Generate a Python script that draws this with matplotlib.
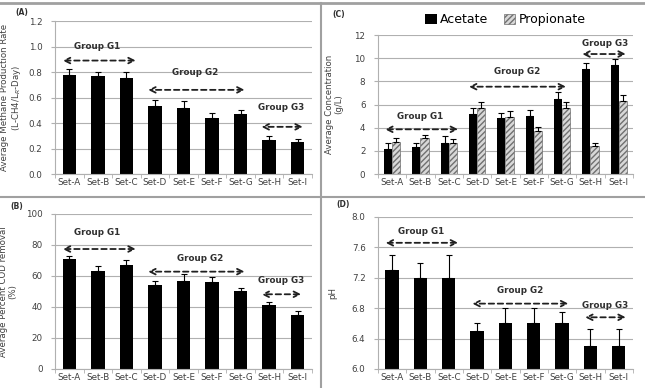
import numpy as np
import matplotlib
matplotlib.use('Agg')
import matplotlib.pyplot as plt
from matplotlib.lines import Line2D
import matplotlib.ticker as mtick

sets = ['Set-A', 'Set-B', 'Set-C', 'Set-D', 'Set-E', 'Set-F', 'Set-G', 'Set-H', 'Set-I']

methane = [0.78, 0.77, 0.75, 0.53, 0.52, 0.44, 0.47, 0.27, 0.25]
methane_err = [0.04, 0.03, 0.05, 0.05, 0.05, 0.04, 0.035, 0.025, 0.025]

cod = [71, 63, 67, 54, 57, 56, 50, 41, 35]
cod_err = [2, 3.5, 3.5, 2.5, 4, 3.5, 2.5, 2, 2.5]

acetate = [2.2, 2.3, 2.7, 5.2, 4.8, 5.0, 6.5, 9.1, 9.4]
acetate_err = [0.5, 0.4, 0.6, 0.5, 0.5, 0.55, 0.6, 0.5, 0.5]
propionate = [2.8, 3.1, 2.7, 5.7, 4.9, 3.7, 5.7, 2.4, 6.3]
propionate_err = [0.3, 0.3, 0.3, 0.55, 0.5, 0.4, 0.55, 0.3, 0.5]

ph = [7.3, 7.2, 7.2, 6.5, 6.6, 6.6, 6.6, 6.3, 6.3]
ph_err = [0.2, 0.2, 0.3, 0.1, 0.2, 0.2, 0.15, 0.23, 0.23]

groups = ['Group G1', 'Group G2', 'Group G3']
# per panel: (arrow start, arrow end, arrow y, label x, label y)
groups_a = [(-0.23, 2.33, 0.89, 0.96, 1.0), (2.76, 6.14, 0.66, 4.4, 0.80), (6.73, 8.18, 0.37, 7.43, 0.52)]
groups_b = [(-0.23, 2.33, 77.4, 0.96, 88), (2.76, 6.14, 62.8, 4.57, 71.4), (6.73, 8.12, 48.2, 7.43, 57)]
groups_c = [(-0.25, 2.33, 3.86, 0.98, 4.95), (2.71, 6.14, 7.54, 4.4, 8.83), (6.71, 8.25, 10.36, 7.51, 11.3)]
groups_d = [(-0.23, 2.33, 7.66, 1.04, 7.81), (2.83, 6.22, 6.86, 4.51, 7.03), (6.81, 8.25, 6.68, 7.51, 6.83)]

txt = '#404040'
grid = '#b0b0b0'

fig = plt.figure(figsize=(6.45, 3.88), dpi=100)
axA = fig.add_axes([0.0853, 0.5515, 0.3984, 0.3943])
axC = fig.add_axes([0.586, 0.5515, 0.3953, 0.3582])
axB = fig.add_axes([0.0853, 0.049, 0.3984, 0.3995])
axD = fig.add_axes([0.586, 0.049, 0.3953, 0.3918])

x = np.arange(len(sets))


def style(ax, ylim, step, fmt):
    ax.set_xlim(-0.5, 8.5)
    ax.set_ylim(*ylim)
    ax.set_yticks(np.arange(ylim[0], ylim[1] + step / 2, step))
    ax.yaxis.set_major_formatter(mtick.FormatStrFormatter(fmt))
    ax.set_xticks(x)
    ax.set_xticklabels(sets)
    ax.set_xticks(np.arange(-0.5, 9, 1), minor=True)
    ax.tick_params(axis='x', which='major', length=0, labelsize=6.3, colors=txt, pad=3)
    ax.tick_params(axis='x', which='minor', length=3, color=grid)
    ax.tick_params(axis='y', length=3, labelsize=6.3, colors=txt, color=grid, pad=6)
    for s in ['top', 'right']:
        ax.spines[s].set_visible(False)
    for s in ['left', 'bottom']:
        ax.spines[s].set_color(grid)
    ax.yaxis.grid(True, color=grid, lw=0.8)
    ax.set_axisbelow(True)


def add_groups(ax, spec):
    for name, (x0, x1, ya, xt, yt) in zip(groups, spec):
        ax.annotate('', xy=(x0, ya), xytext=(x1, ya),
                    arrowprops=dict(arrowstyle='<->', ls=(0, (3, 2)), lw=1.3, color='#202020',
                                    shrinkA=0, shrinkB=0))
        ax.text(xt, yt, name, ha='center', va='center', fontsize=6.3, fontweight='bold', color='#303030')


def bars(ax, vals, errs):
    ax.bar(x, vals, width=0.47, color='black', zorder=2)
    ax.errorbar(x, vals, yerr=[np.zeros(len(vals)), errs], fmt='none', ecolor='black',
                elinewidth=0.8, capsize=2, capthick=0.8, zorder=3)


# (A)
style(axA, (0, 1.2), 0.2, '%.1f')
bars(axA, methane, methane_err)
add_groups(axA, groups_a)
axA.set_ylabel('Average Methane Production Rate\n(L-CH4/L$_R$-Day)', fontsize=6.2, color=txt,
               linespacing=1.1, labelpad=4)

# (B)
style(axB, (0, 100), 20, '%d')
bars(axB, cod, cod_err)
add_groups(axB, groups_b)
axB.set_ylabel('Average Percent COD removal\n(%)', fontsize=6.2, color=txt, linespacing=1.1, labelpad=6)

# (C)
style(axC, (0, 12), 2, '%d')
w = 0.29
axC.bar(x - 0.145, acetate, width=w, color='black', label='Acetate', zorder=2)
axC.bar(x + 0.145, propionate, width=w, color='#d8d8d8', edgecolor='#707070', hatch='//////',
        lw=0.5, label='Propionate', zorder=2)
axC.errorbar(x - 0.145, acetate, yerr=[np.zeros(9), acetate_err], fmt='none', ecolor='black',
             elinewidth=0.8, capsize=2, capthick=0.8, zorder=3)
axC.errorbar(x + 0.145, propionate, yerr=[np.zeros(9), propionate_err], fmt='none', ecolor='black',
             elinewidth=0.8, capsize=2, capthick=0.8, zorder=3)
add_groups(axC, groups_c)
axC.set_ylabel('Average Concentration\n(g/L)', fontsize=6.2, color=txt, linespacing=1.1, labelpad=8)
axC.legend(loc='lower center', bbox_to_anchor=(0.5, 1.0), ncol=2, frameon=False, fontsize=9,
           handlelength=0.9, handleheight=0.9, handletextpad=0.3, columnspacing=1.2, borderpad=0.2)

# (D)
style(axD, (6.0, 8.0), 0.4, '%.1f')
bars(axD, ph, ph_err)
add_groups(axD, groups_d)
axD.set_ylabel('pH', fontsize=6.2, color=txt, labelpad=10)

# panel letters
for lab, px, py in [('(A)', 15, 13), ('(C)', 332, 14), ('(B)', 10, 206), ('(D)', 336, 205)]:
    fig.text(px / 645, 1 - py / 388, lab, fontsize=5.5, fontweight='bold', color='#303030',
             ha='left', va='center')

# frame lines between panels
lc = '#a0a0a0'
fig.add_artist(Line2D([321 / 645, 321 / 645], [0, 0.992], color=lc, lw=1.5))
fig.add_artist(Line2D([0, 1], [1 - 197 / 388, 1 - 197 / 388], color=lc, lw=1.5))
fig.add_artist(Line2D([0, 1], [0.992, 0.992], color=lc, lw=2))

fig.savefig('out.png', dpi=100)
